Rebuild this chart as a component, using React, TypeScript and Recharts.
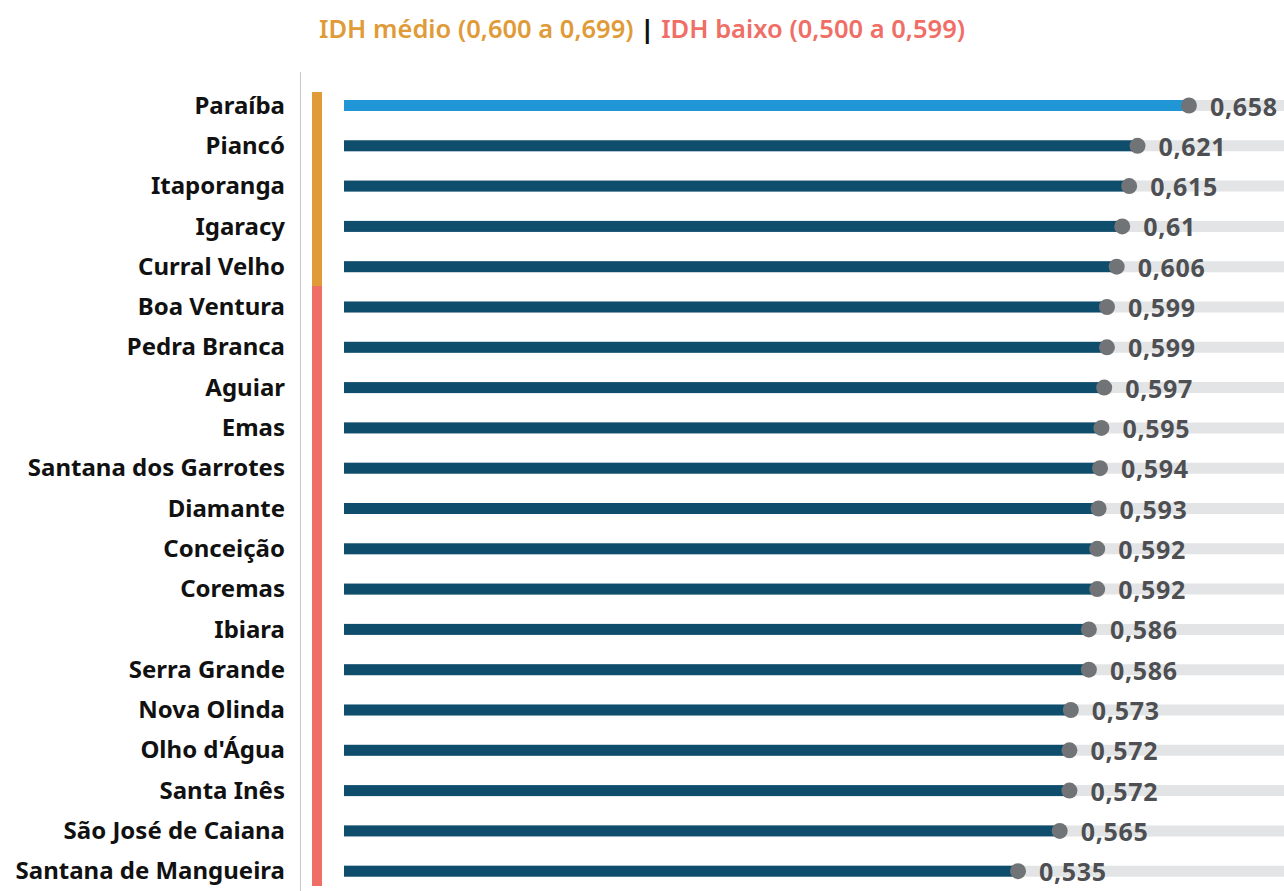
import React from "react"
import { BarChart, Bar, XAxis, YAxis, LabelList } from "recharts"

const municipios = [
  "Paraíba",
  "Piancó",
  "Itaporanga",
  "Igaracy",
  "Curral Velho",
  "Boa Ventura",
  "Pedra Branca",
  "Aguiar",
  "Emas",
  "Santana dos Garrotes",
  "Diamante",
  "Conceição",
  "Coremas",
  "Ibiara",
  "Serra Grande",
  "Nova Olinda",
  "Olho d'Água",
  "Santa Inês",
  "São José de Caiana",
  "Santana de Mangueira",
]

const idh = [
  0.658, 0.621, 0.615, 0.61, 0.606, 0.599, 0.599, 0.597, 0.595, 0.594,
  0.593, 0.592, 0.592, 0.586, 0.586, 0.573, 0.572, 0.572, 0.565, 0.535,
]

const destaque = "Paraíba"
const limiteMedio = 0.6

const data = municipios.map((nome, i) => ({ nome, idh: idh[i] }))

const FONT = "'Noto Sans', 'Open Sans', sans-serif"
const LARANJA = "#e09b38"
const VERMELHO = "#ef6e66"

const fmt = (v: number) => String(v).replace(".", ",")

const Tick = (props: any) => {
  const { y, payload, index } = props
  const v = idh[index]
  const half = 20.5
  const top = index === 0 ? y - 13 : y - half
  const bottom = index === municipios.length - 1 ? y + 15 : y + half
  return (
    <g>
      <text
        x={285}
        y={y - 1}
        textAnchor="end"
        dominantBaseline="central"
        fontFamily={FONT}
        fontWeight={700}
        fontSize={24}
        fill="#111"
      >
        {payload.value}
      </text>
      <line
        x1={300.5}
        x2={300.5}
        y1={index === 0 ? 72 : y - half}
        y2={y + half}
        stroke="#c8c8c8"
        strokeWidth={1}
        shapeRendering="crispEdges"
      />
      <rect
        x={312}
        y={top}
        width={10}
        height={bottom - top}
        fill={v >= limiteMedio ? LARANJA : VERMELHO}
        shapeRendering="crispEdges"
      />
    </g>
  )
}

const BarShape = (props: any) => {
  const { x, y, width, height, payload } = props
  const cor = payload.nome === destaque ? "#2196d6" : "#0f4d6d"
  return (
    <g>
      <rect x={x} y={y} width={width} height={height} fill={cor} />
      <circle cx={x + width} cy={y + height / 2} r={8} fill="#717477" />
    </g>
  )
}

const ValueLabel = (props: any) => {
  const { x, y, width, height, value } = props
  return (
    <text
      x={x + width + 21}
      y={y + height / 2}
      dominantBaseline="central"
      fontFamily={FONT}
      fontWeight={700}
      fontSize={25}
      letterSpacing={0.7}
      fill="#4d4f52"
    >
      {fmt(value)}
    </text>
  )
}

export default function App() {
  return (
    <div style={{ position: "absolute", left: 0, top: 0, width: 1284, height: 891, background: "#fff" }}>
      <div
        style={{
          position: "absolute",
          top: 8,
          left: 0,
          width: 1284,
          textAlign: "center",
          fontFamily: FONT,
          fontWeight: 600,
          fontSize: 25.5,
          lineHeight: "40px",
          whiteSpace: "nowrap",
        }}
      >
        <span style={{ color: LARANJA }}>IDH médio (0,600 a 0,699)</span>
        <span style={{ color: "#111", fontWeight: 800, margin: "0 7px" }}>|</span>
        <span style={{ color: VERMELHO }}>IDH baixo (0,500 a 0,599)</span>
      </div>
      <BarChart
        width={1284}
        height={891}
        data={data}
        layout="vertical"
        margin={{ top: 85, right: 0, bottom: 0, left: 0 }}
      >
        <XAxis type="number" domain={[0.05, 0.7264]} allowDataOverflow hide />
        <YAxis
          type="category"
          dataKey="nome"
          width={344}
          axisLine={false}
          tickLine={false}
          interval={0}
          tick={<Tick />}
        />
        <Bar
          dataKey="idh"
          barSize={11}
          background={{ fill: "#e3e4e6" }}
          shape={<BarShape />}
          isAnimationActive={false}
        >
          <LabelList dataKey="idh" content={<ValueLabel />} />
        </Bar>
      </BarChart>
    </div>
  )
}
